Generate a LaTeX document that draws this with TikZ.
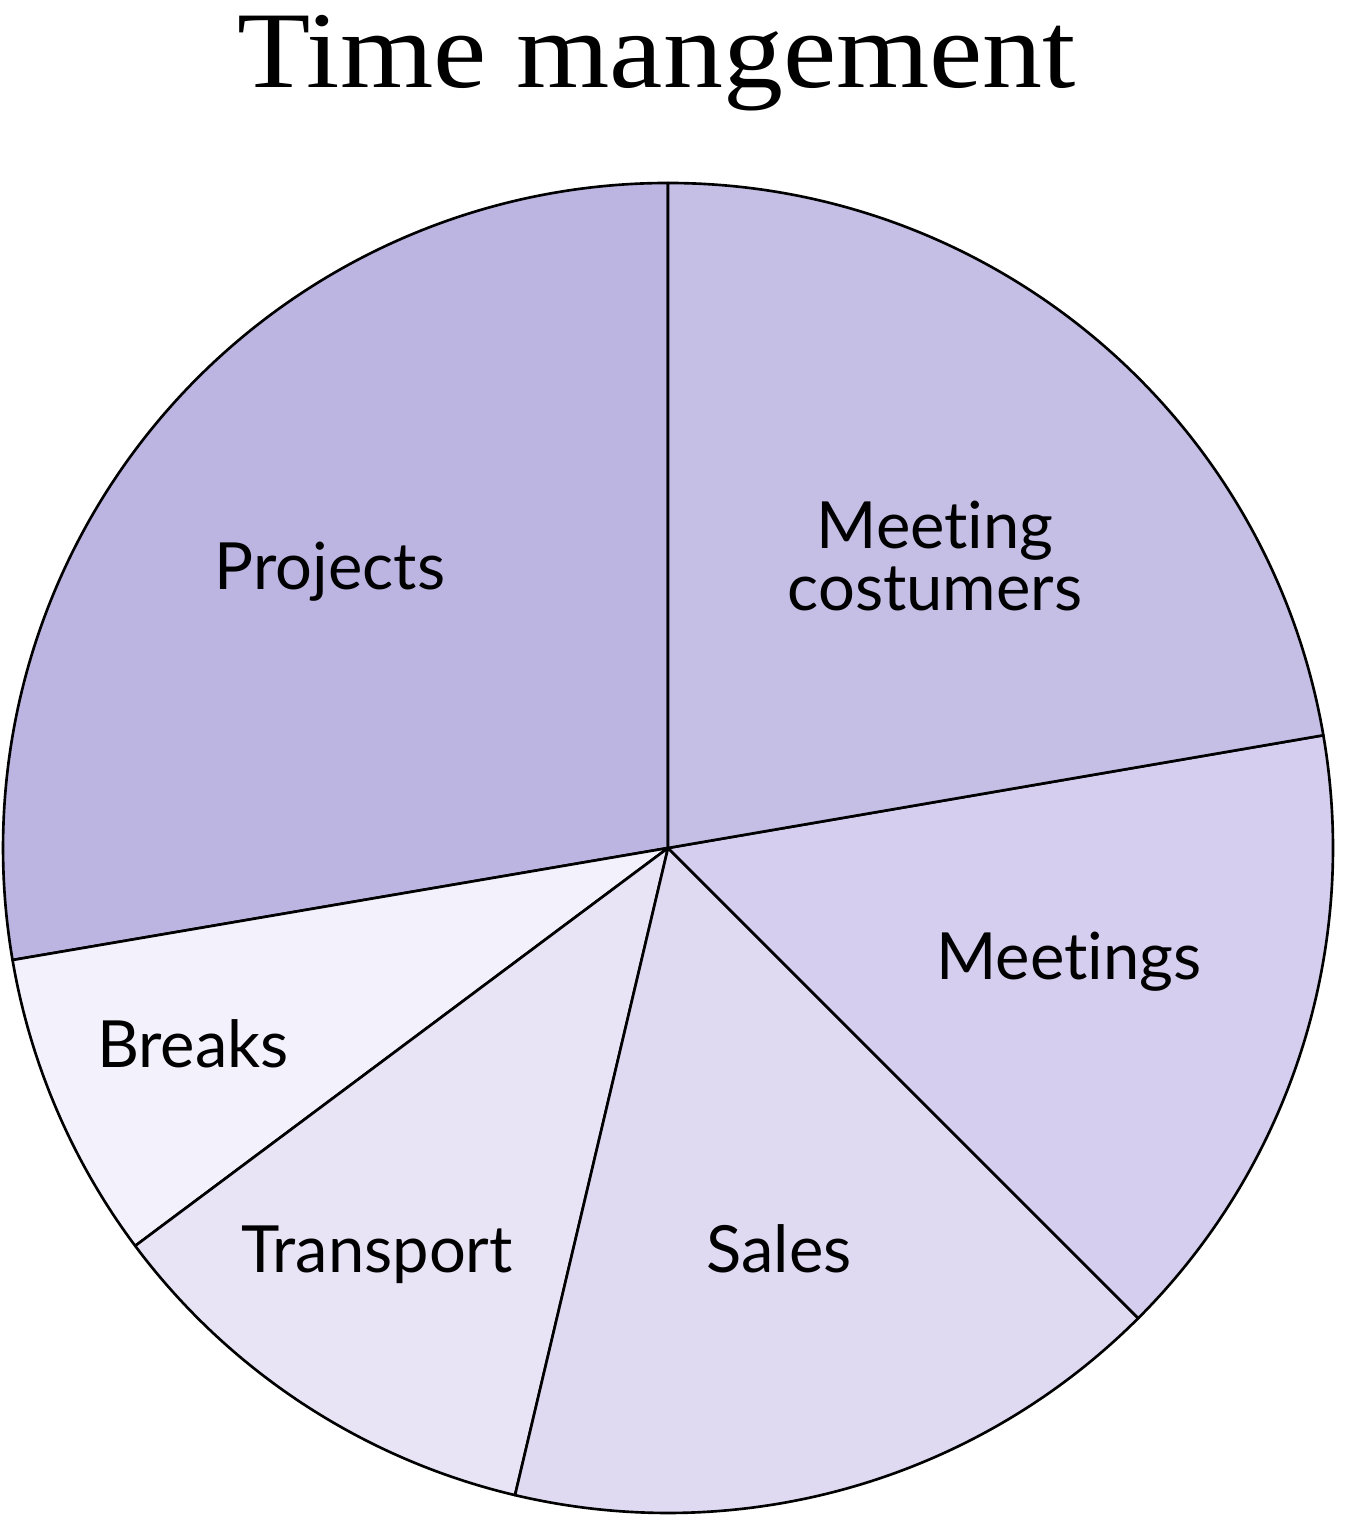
\documentclass[tikz,border=0pt]{standalone}
\usepackage{fontspec}
\setmainfont{Liberation Serif}
\newfontfamily\titlefont[FakeStretch=1.1]{Liberation Serif}
\newfontfamily\labelfont[Ligatures={NoCommon,NoRare,NoDiscretionary}]{Lato}
\usepackage{xcolor}
\usepackage{tikz}
\usetikzlibrary{positioning, calc}
\definecolor{projectscolor}{HTML}{BDB5E1}
\definecolor{customerscolor}{HTML}{C5BEE5}
\definecolor{meetingscolor}{HTML}{D5CEEE}
\definecolor{salescolor}{HTML}{DFD9F2}
\definecolor{transportcolor}{HTML}{E8E4F6}
\definecolor{breakscolor}{HTML}{F3F1FC}

\begin{document}
\begin{tikzpicture}[
        x=0.01cm, y=0.01cm,
        slice/.style={draw=black, line width=0.75pt, line join=round},
        slicelabel/.style={inner sep=0pt, anchor=base, align=center, font=\labelfont\fontsize{18.5}{17.6}\selectfont},
        title/.style={inner sep=0pt, anchor=base, font=\titlefont\fontsize{31}{36}\selectfont}
    ]
        \useasboundingbox (0,0) rectangle (1347,1518);
        \coordinate (centre) at (668,670);

        % Slices
        \foreach \from/\to/\col in {90/189.7/projectscolor, 189.7/216.75/breakscolor,
            216.75/256.7/transportcolor, 256.7/315/salescolor,
            -45/9.76/meetingscolor, 9.76/90/customerscolor}
            \filldraw [slice, fill=\col] (centre) -- ++(\from:665) arc[start angle=\from, end angle=\to, radius=665] -- cycle;

        % Title
        \node (title) [title] at (657,1430) {Time mangement};

        % Labels
        \node (projects) [slicelabel] at (330,928) {Projects};
        \node (customers) [slicelabel, anchor=center] at (935,962) {Meeting\\costumers};
        \node (meetings) [slicelabel] at (1069,538) {Meetings};
        \node (breaks) [slicelabel] at (193,450) {Breaks};
        \node (transport) [slicelabel] at (377,245) {Transport};
        \node (sales) [slicelabel] at (779,245) {Sales};
    \end{tikzpicture}
\end{document}
